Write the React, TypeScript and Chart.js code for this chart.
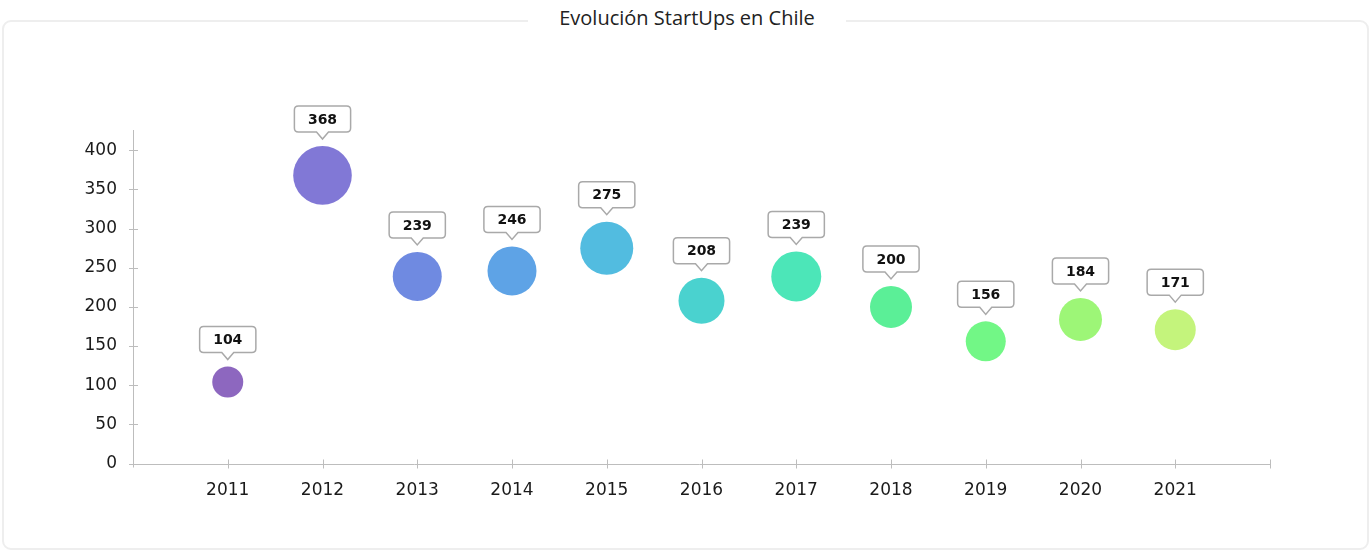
import React, { useEffect, useRef } from "react";
import { Chart, registerables } from "chart.js";

Chart.register(...registerables);

const TITLE = "Evolución StartUps en Chile";
const YEARS = [2011, 2012, 2013, 2014, 2015, 2016, 2017, 2018, 2019, 2020, 2021];
const STARTUPS = [104, 368, 239, 246, 275, 208, 239, 200, 156, 184, 171];
const BUBBLE_RADII = [15.5, 29.3, 24.5, 24.5, 26.5, 23, 25, 21, 20, 21.5, 20.5];
const COLORS = [
  "#8d67bf",
  "#8178d6",
  "#6f8ae1",
  "#5ea3e6",
  "#52bce0",
  "#4ad2cf",
  "#4ce6b8",
  "#5bef97",
  "#72f786",
  "#9df677",
  "#c4f47c",
];
const Y_TICKS_STEP = 50;

const AXIS_COLOR = "#bdbdbd";
const TICK_FONT = "'DejaVu Sans', Verdana, sans-serif";

const axesPlugin = {
  id: "crossAxes",
  afterDraw(chart: any) {
    const ctx = chart.ctx;
    const xs = chart.scales.x;
    const ys = chart.scales.y;
    const { left, right, top, bottom } = chart.chartArea;
    ctx.save();
    ctx.strokeStyle = AXIS_COLOR;
    ctx.lineWidth = 1;
    ctx.beginPath();
    ctx.moveTo(left + 0.5, top);
    ctx.lineTo(left + 0.5, bottom + 4);
    ctx.moveTo(left - 4, Math.round(bottom) + 0.5);
    ctx.lineTo(right + 0.5, Math.round(bottom) + 0.5);
    ys.ticks.forEach((t: any) => {
      if (t.value % Y_TICKS_STEP !== 0) return;
      const y = Math.round(ys.getPixelForValue(t.value)) + 0.5;
      ctx.moveTo(left - 4, y);
      ctx.lineTo(left + 5, y);
    });
    xs.ticks.forEach((t: any) => {
      if (t.value === xs.min) return;
      const x = Math.round(xs.getPixelForValue(t.value)) + 0.5;
      ctx.moveTo(x, bottom - 4);
      ctx.lineTo(x, bottom + 5);
    });
    ctx.stroke();
    ctx.restore();
  },
};

const calloutPlugin = {
  id: "callouts",
  afterDatasetsDraw(chart: any) {
    const ctx = chart.ctx;
    const meta = chart.getDatasetMeta(0);
    ctx.save();
    ctx.font = "bold 14px 'DejaVu Sans', Verdana, sans-serif";
    meta.data.forEach((el: any, i: number) => {
      const text = String(STARTUPS[i]);
      const r = el.options.radius;
      const tipY = el.y - r - 7;
      const boxBottom = tipY - 7;
      const h = 26;
      const tw = ctx.measureText(text).width;
      const w = tw + 27;
      const x0 = el.x - w / 2;
      const y0 = boxBottom - h;
      const rad = 4;
      ctx.beginPath();
      ctx.moveTo(x0 + rad, y0);
      ctx.lineTo(x0 + w - rad, y0);
      ctx.quadraticCurveTo(x0 + w, y0, x0 + w, y0 + rad);
      ctx.lineTo(x0 + w, boxBottom - rad);
      ctx.quadraticCurveTo(x0 + w, boxBottom, x0 + w - rad, boxBottom);
      ctx.lineTo(el.x + 6, boxBottom);
      ctx.lineTo(el.x, tipY);
      ctx.lineTo(el.x - 6, boxBottom);
      ctx.lineTo(x0 + rad, boxBottom);
      ctx.quadraticCurveTo(x0, boxBottom, x0, boxBottom - rad);
      ctx.lineTo(x0, y0 + rad);
      ctx.quadraticCurveTo(x0, y0, x0 + rad, y0);
      ctx.closePath();
      ctx.fillStyle = "#ffffff";
      ctx.fill();
      ctx.strokeStyle = "#a9a9a9";
      ctx.lineWidth = 1.5;
      ctx.stroke();
      ctx.fillStyle = "#111111";
      ctx.textAlign = "center";
      ctx.textBaseline = "middle";
      ctx.fillText(text, el.x, y0 + h / 2 + 1);
    });
    ctx.restore();
  },
};

export default function App() {
  const canvasRef = useRef<HTMLCanvasElement | null>(null);

  useEffect(() => {
    document.body.style.margin = "0";
    const canvas = canvasRef.current;
    if (!canvas) return;
    const chart = new Chart(canvas, {
      type: "bubble",
      data: {
        datasets: [
          {
            label: "StartUps",
            data: YEARS.map((y, i) => ({ x: y, y: STARTUPS[i], r: BUBBLE_RADII[i] })),
            backgroundColor: COLORS,
            borderWidth: 0,
            hoverBorderWidth: 0,
          },
        ],
      },
      options: {
        responsive: false,
        animation: false,
        events: [],
        layout: { padding: { left: 0, right: 102, top: 130, bottom: 0 } },
        plugins: {
          legend: { display: false },
          tooltip: { enabled: false },
          title: { display: false },
        },
        scales: {
          x: {
            type: "linear",
            min: 2010,
            max: 2022,
            grid: { display: false, drawTicks: false },
            border: { display: false },
            ticks: {
              stepSize: 1,
              autoSkip: false,
              maxRotation: 0,
              padding: 17,
              color: "#1a1a1a",
              font: { family: TICK_FONT, size: 17 },
              callback: (v: any) => (v === 2010 || v === 2022 ? "" : String(v)),
            },
            afterFit: (s: any) => {
              s.height = 88.5;
            },
          },
          y: {
            min: 0,
            max: 426,
            grid: { display: false, drawTicks: false },
            border: { display: false },
            afterBuildTicks: (s: any) => {
              s.ticks = s.ticks.filter((t: any) => t.value % Y_TICKS_STEP === 0);
            },
            ticks: {
              stepSize: Y_TICKS_STEP,
              includeBounds: false,
              autoSkip: false,
              padding: 16,
              color: "#1a1a1a",
              font: { family: TICK_FONT, size: 17 },
              callback: (v: any) => String(v),
            },
            afterFit: (s: any) => {
              s.width = 133;
            },
          },
        },
      },
      plugins: [axesPlugin, calloutPlugin],
    });
    return () => chart.destroy();
  }, []);

  return (
    <div style={{ position: "relative", width: 1372, height: 552, background: "#fff", overflow: "hidden" }}>
      <div
        style={{
          position: "absolute",
          left: 2,
          top: 20,
          width: 1367,
          height: 530,
          boxSizing: "border-box",
          border: "2px solid #eeeeee",
          borderRadius: 9,
        }}
      />
      <div
        style={{
          position: "absolute",
          left: 528,
          top: 5,
          width: 318,
          height: 28,
          background: "#fff",
          textAlign: "center",
          fontFamily: "'Open Sans', Lato, sans-serif",
          fontSize: 20,
          lineHeight: "26px",
          color: "#222222",
        }}
      >
        {TITLE}
      </div>
      <canvas ref={canvasRef} width={1372} height={552} style={{ position: "absolute", left: 0, top: 0 }} />
    </div>
  );
}
